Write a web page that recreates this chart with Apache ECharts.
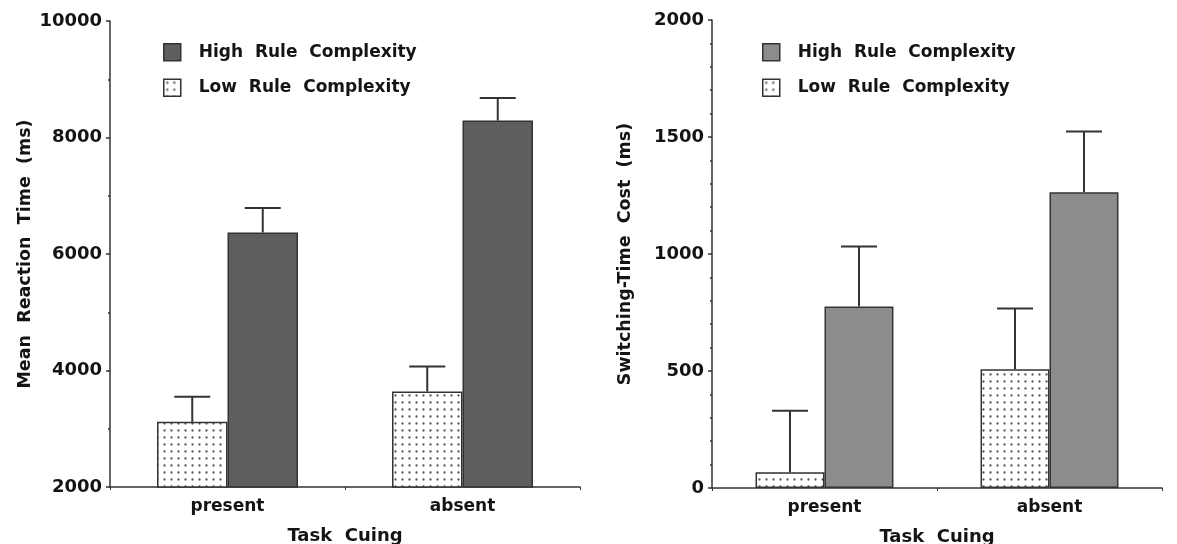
<!DOCTYPE html>
<html>
<head>
<meta charset="utf-8">
<script src="https://cdn.jsdelivr.net/npm/echarts@6/dist/echarts.min.js"></script>
<style>
html,body{margin:0;padding:0;background:#fff;}
#chart{width:1177px;height:544px;}
</style>
</head>
<body>
<div id="chart"></div>
<script>
// ---- data ----
const categories = ['present', 'absent'];
const seriesNames = ['High Rule Complexity', 'Low Rule Complexity'];
// Left panel: Mean Reaction Time (ms)
const rtLow = [3120, 3640];
const rtLowErr = [3550, 4070];
const rtHigh = [6370, 8290];
const rtHighErr = [6790, 8680];
const rtTicks = [2000, 4000, 6000, 8000, 10000];
// Right panel: Switching-Time Cost (ms)
const stLow = [67, 508];
const stLowErr = [330, 767];
const stHigh = [776, 1264];
const stHighErr = [1032, 1524];
const stTicks = [0, 500, 1000, 1500, 2000];

// ---- styles ----
const FONT = 'DejaVu Sans';
const INK = '#141414';
const LINE = '#333';

function dotPattern() {
  const c = document.createElement('canvas');
  c.width = 7; c.height = 7;
  const g = c.getContext('2d');
  g.fillStyle = '#fff';
  g.fillRect(0, 0, 7, 7);
  g.fillStyle = '#555';
  g.beginPath();
  g.arc(3.5, 3.5, 1.15, 0, Math.PI * 2);
  g.fill();
  return c;
}
const lowFill = { image: dotPattern(), repeat: 'repeat' };
const leftHighFill = '#5e5e5e';
const rightHighFill = '#8c8c8c';

const chart = echarts.init(document.getElementById('chart'));

function errSeries(idx, tops, errs, side, gap) {
  return {
    type: 'custom',
    xAxisIndex: idx, yAxisIndex: idx,
    silent: true,
    z: 5,
    data: categories.map((c, i) => [i, tops[i], errs[i]]),
    renderItem: function (params, api) {
      const ci = api.value(0);
      const p0 = api.coord([ci, api.value(1)]);
      const p1 = api.coord([ci, api.value(2)]);
      const band = api.size([1, 0])[0];
      const bw = band * (1 - gap) / 2;
      const x = p0[0] + side * bw / 2;
      const half = 18;
      const st = { stroke: LINE, lineWidth: 2 };
      return {
        type: 'group',
        children: [
          { type: 'line', shape: { x1: x, y1: p0[1], x2: x, y2: p1[1] }, style: st },
          { type: 'line', shape: { x1: x - half, y1: p1[1], x2: x + half, y2: p1[1] }, style: st }
        ]
      };
    }
  };
}

function xAxisCfg(idx) {
  return {
    type: 'category', gridIndex: idx, data: categories,
    axisLine: { lineStyle: { color: LINE, width: 1.5 } },
    axisTick: { show: true, length: 3, lineStyle: { color: LINE } },
    axisLabel: { color: INK, fontFamily: FONT, fontWeight: 'bold', fontSize: 17, margin: 11 },
    name: 'Task  Cuing', nameLocation: 'middle', nameGap: 40,
    nameTextStyle: { color: INK, fontFamily: FONT, fontWeight: 'bold', fontSize: 18 }
  };
}
function yAxisCfg(idx, ticks, minorSplit, title, gap) {
  return {
    type: 'value', gridIndex: idx,
    min: ticks[0], max: ticks[ticks.length - 1], interval: ticks[1] - ticks[0],
    splitLine: { show: false },
    axisLine: { show: true, lineStyle: { color: LINE, width: 1.5 } },
    axisTick: { show: true, length: 4, lineStyle: { color: LINE, width: 1.5 } },
    minorTick: { show: true, splitNumber: minorSplit, length: 2, lineStyle: { color: LINE, width: 1.5 } },
    axisLabel: { color: INK, fontFamily: FONT, fontWeight: 'bold', fontSize: 18, margin: 8,
      formatter: v => String(v) },
    name: title, nameLocation: 'middle', nameGap: gap, nameRotate: 90,
    nameTextStyle: { color: INK, fontFamily: FONT, fontWeight: 'bold', fontSize: 17.5 }
  };
}
function legendCfg(left, highColor) {
  return {
    orient: 'vertical', left: left, top: 43, padding: 0,
    itemWidth: 17, itemHeight: 17, itemGap: 17,
    selectedMode: false,
    formatter: n => n.replace(/ /g, '  '),
    textStyle: { color: INK, fontFamily: FONT, fontWeight: 'bold', fontSize: 17, padding: [0, 0, 0, 13] },
    data: [
      { name: seriesNames[0], icon: 'rect', itemStyle: { color: highColor, borderColor: LINE, borderWidth: 1.5 } },
      { name: seriesNames[1], icon: 'rect', itemStyle: { color: lowFill, borderColor: LINE, borderWidth: 1.5 } }
    ]
  };
}

const leftGap = 0.40, rightGap = 0.387;

chart.setOption({
  animation: false,
  backgroundColor: '#fff',
  grid: [
    { left: 110, width: 470, top: 21, bottom: 57, containLabel: false, outerBoundsMode: 'none' },
    { left: 712, width: 450, top: 20, bottom: 56, containLabel: false, outerBoundsMode: 'none' }
  ],
  legend: [legendCfg(163, leftHighFill), legendCfg(762, rightHighFill)],
  xAxis: [xAxisCfg(0), xAxisCfg(1)],
  yAxis: [
    yAxisCfg(0, rtTicks, 2, 'Mean  Reaction  Time  (ms)', 76),
    yAxisCfg(1, stTicks, 5, 'Switching-Time  Cost  (ms)', 78)
  ],
  series: [
    { name: seriesNames[1], type: 'bar', xAxisIndex: 0, yAxisIndex: 0, data: rtLow,
      barGap: '0%', barCategoryGap: (leftGap * 100) + '%',
      itemStyle: { color: lowFill, borderColor: LINE, borderWidth: 1.5 } },
    { name: seriesNames[0], type: 'bar', xAxisIndex: 0, yAxisIndex: 0, data: rtHigh,
      barGap: '0%', barCategoryGap: (leftGap * 100) + '%',
      itemStyle: { color: leftHighFill, borderColor: LINE, borderWidth: 1.5 } },
    { name: seriesNames[1], type: 'bar', xAxisIndex: 1, yAxisIndex: 1, data: stLow,
      barGap: '0%', barCategoryGap: (rightGap * 100) + '%',
      itemStyle: { color: lowFill, borderColor: LINE, borderWidth: 1.5 } },
    { name: seriesNames[0], type: 'bar', xAxisIndex: 1, yAxisIndex: 1, data: stHigh,
      barGap: '0%', barCategoryGap: (rightGap * 100) + '%',
      itemStyle: { color: rightHighFill, borderColor: LINE, borderWidth: 1.5 } },
    errSeries(0, rtLow, rtLowErr, -1, leftGap),
    errSeries(0, rtHigh, rtHighErr, 1, leftGap),
    errSeries(1, stLow, stLowErr, -1, rightGap),
    errSeries(1, stHigh, stHighErr, 1, rightGap)
  ]
});
</script>
</body>
</html>
